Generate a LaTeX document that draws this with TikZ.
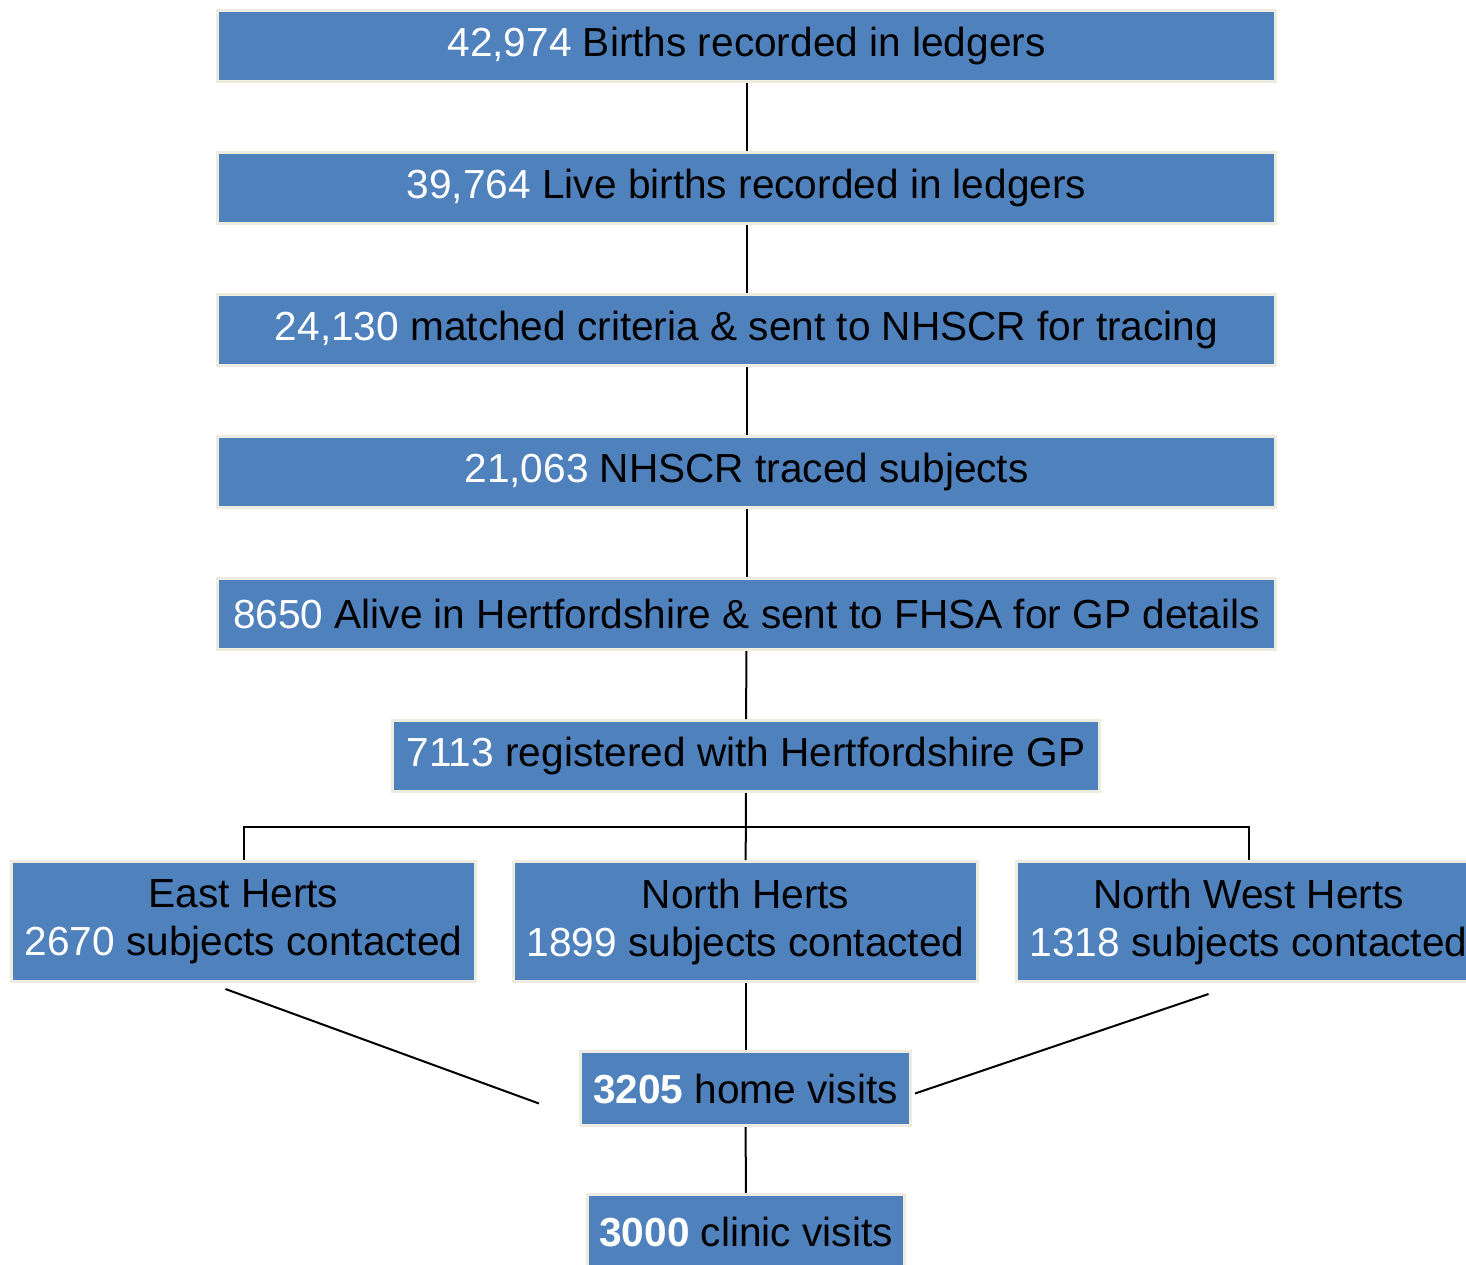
\documentclass[tikz,border=0pt]{standalone}
\usepackage{fontspec}
\setmainfont{Liberation Sans}
\usetikzlibrary{calc}
\definecolor{boxblue}{RGB}{79,129,189}
\definecolor{boxrim}{RGB}{238,236,225}
\newcommand{\wnum}[1]{\textcolor{white}{#1}}

\begin{document}
\begin{tikzpicture}[x=0.5pt, y=-0.5pt,
  box/.style={draw=boxrim, fill=boxblue, line width=1.5pt, inner sep=0pt, align=center,
    minimum height=35.5pt, font=\fontsize{20.3}{24}\selectfont},
  widebox/.style={box, minimum width=529pt},
  areabox/.style={box, minimum width=232pt, minimum height=60pt},
  link/.style={line width=1pt, black}]
\useasboundingbox (0,0) rectangle (1466,1264);
\path
(746.5,46) node[widebox] (births) {\wnum{42,974} Births recorded in ledgers};
\path
(746.5,188) node[widebox] (live) {\wnum{39,764} Live births recorded in ledgers};
\path
(746.5,330) node[widebox] (matched) {\wnum{24,130} matched criteria \& sent to NHSCR for tracing};
\path
(746.5,472) node[widebox] (traced) {\wnum{21,063} NHSCR traced subjects};
\path
(746.5,614) node[widebox] (alive) {\wnum{8650} Alive in Hertfordshire \& sent to FHSA for GP details};
\path
(746,756) node[box, minimum width=353.5pt] (registered) {\wnum{7113} registered with Hertfordshire GP};
\path
(243.5,921.5) node[areabox] (east) {East Herts\\\wnum{2670} subjects contacted};
\path
(745.5,921.5) node[areabox] (north) {North Herts\\\wnum{1899} subjects contacted};
\path
(1248.5,921.5) node[areabox] (nwest) {North West Herts\\\wnum{1318} subjects contacted};
\path
(745.5,1088.5) node[box, minimum width=165pt, minimum height=37pt] (home) {\textbf{\wnum{3205}} home visits};
\path
(746,1231.5) node[box, minimum width=158.5pt, minimum height=37pt] (clinic) {\textbf{\wnum{3000}} clinic visits};
\draw[link] (births) -- (live);
\draw[link] (live) -- (matched);
\draw[link] (matched) -- (traced);
\draw[link] (traced) -- (alive);
\draw[link] (alive) -- (registered);
\coordinate (fork) at ($(registered.south)!0.5!(north.north)$);
\draw[link] (registered) -- (north);
\draw[link] (east.north) |- (fork) -| (nwest.north);
\coordinate (eastfoot) at ($(east.south)+(-18,6)$);
\coordinate (homeleft) at ($(home.west)+(-40,15)$);
\coordinate (nwestfoot) at ($(nwest.south)+(-40,11)$);
\coordinate (homeright) at ($(home.east)+(3,5)$);
\draw[link] (eastfoot) -- (homeleft);
\draw[link] (nwestfoot) -- (homeright);
\draw[link] (north) -- (home);
\draw[link] (home) -- (clinic);
\end{tikzpicture}
\end{document}
